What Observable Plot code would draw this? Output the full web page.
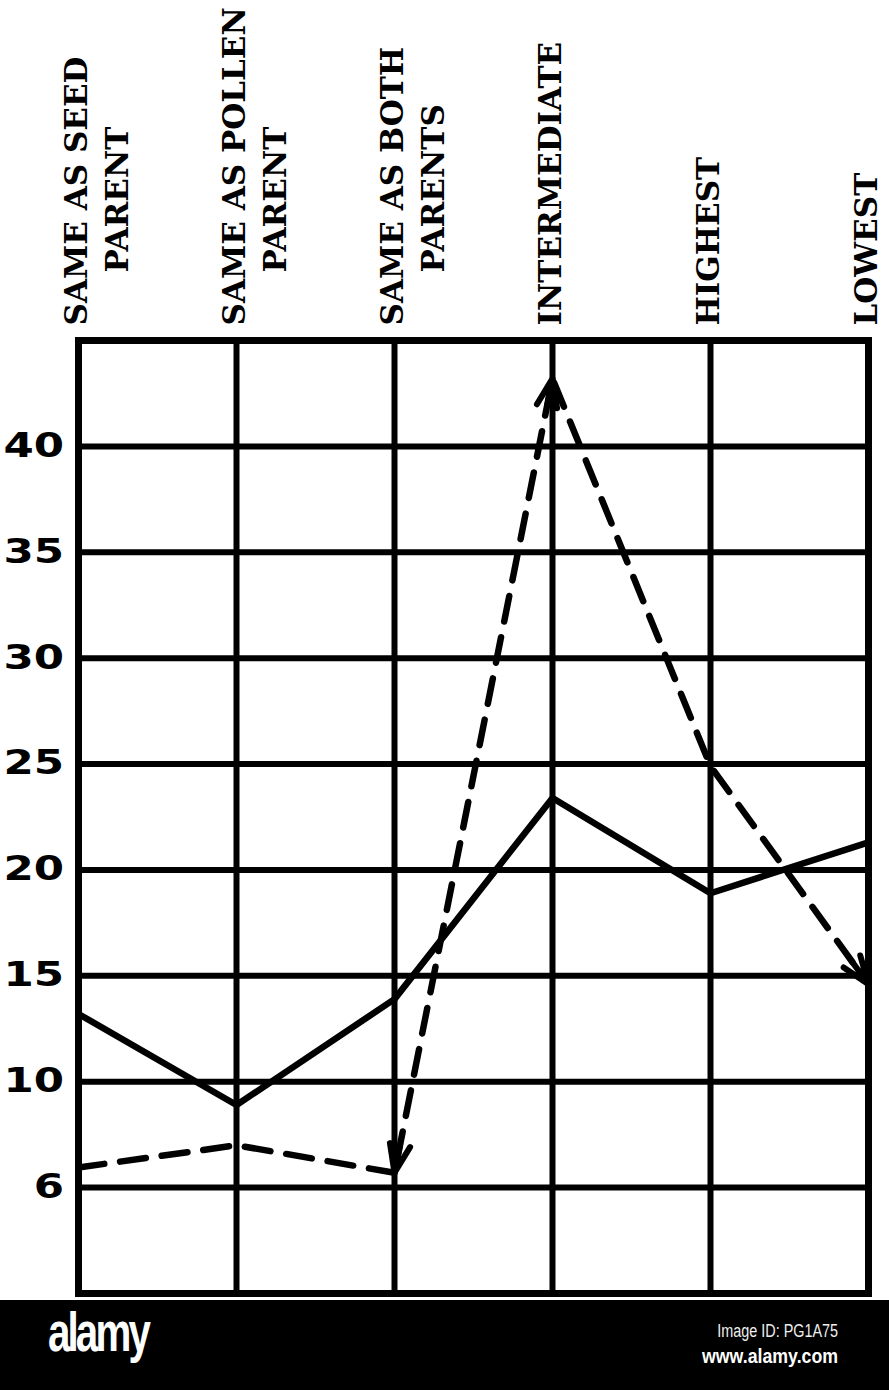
<!DOCTYPE html>
<html><head><meta charset="utf-8">
<script src="https://cdn.jsdelivr.net/npm/d3@7"></script>
<script src="https://cdn.jsdelivr.net/npm/@observablehq/plot@0.6"></script>
<style>
body{margin:0;background:#fff;width:889px;overflow:hidden;}
#chart svg{display:block;background:#fff;}
#chart g[font-family="DejaVu Sans"]{transform-origin:78px 0px;transform:translateX(-14px) scaleX(1.28);}
#footer{position:relative;width:889px;height:90px;background:#000;color:#fff;}
#logo{position:absolute;left:48px;top:4px;font-family:"Liberation Sans Narrow","Liberation Sans",sans-serif;font-weight:bold;font-size:56px;letter-spacing:-4px;line-height:1;transform:scaleX(0.72);transform-origin:left center;}
#imgid{position:absolute;right:51px;top:22px;font-family:"Liberation Sans Narrow","Liberation Sans",sans-serif;font-size:18px;line-height:1;color:#eee;transform:scaleX(0.8);transform-origin:right center;}
#site{position:absolute;right:51px;top:45px;font-family:"Liberation Sans Narrow","Liberation Sans",sans-serif;font-weight:bold;font-size:21px;line-height:1;transform:scaleX(0.845);transform-origin:right center;}
</style></head><body>
<div id="chart"></div>
<div id="footer"><div id="logo">alamy</div><div id="imgid">Image ID: PG1A75</div><div id="site">www.alamy.com</div></div>
<script>
const labelLine1 = ["SAME AS SEED", "SAME AS POLLEN", "SAME AS BOTH", "INTERMEDIATE", "HIGHEST", "LOWEST"];
const labelLine2 = ["PARENT", "PARENT", "PARENTS", "", "", ""];
const categories = labelLine1.map((l, i) => (l + " " + labelLine2[i]).trim());
const solidValues = [13.2, 8.9, 13.9, 23.4, 18.9, 21.3];
const dashedValues = [5.95, 7.0, 5.7, 43.2, 24.9, 14.6];
const yTicks = [5, 10, 15, 20, 25, 30, 35, 40];
const yTickLabels = ["6", "10", "15", "20", "25", "30", "35", "40"];
const arrowFrom = [2, 3, 4];
const arrowTo = [3, 2, 5];
const arrowSpan = [0.12, 0.12, 0.36];

const idx = categories.map((_, i) => i);
const solid = idx.map(i => ({i, v: solidValues[i], c: categories[i]}));
const dashed = idx.map(i => ({i, v: dashedValues[i], c: categories[i]}));
const arrows = arrowFrom.map((a, k) => {
  const b = arrowTo[k], t = 1 - arrowSpan[k];
  return {x1: a + (b - a) * t, y1: dashedValues[a] + (dashedValues[b] - dashedValues[a]) * t, x2: b, y2: dashedValues[b]};
});

const chart = Plot.plot({
  width: 889, height: 1300,
  marginLeft: 78, marginRight: 21, marginTop: 340, marginBottom: 7,
  x: {domain: [0, 5], axis: null},
  y: {domain: [0, 45], axis: null},
  style: {background: "#fff", color: "#000"},
  marks: [
    Plot.ruleY(yTicks, {stroke: "#000", strokeWidth: 6}),
    Plot.ruleX(idx, {stroke: "#000", strokeWidth: 6}),
    Plot.frame({stroke: "#000", strokeWidth: 7}),
    Plot.line(solid, {x: "i", y: "v", stroke: "#000", strokeWidth: 6.5, strokeLinejoin: "miter"}),
    Plot.line(dashed, {x: "i", y: "v", stroke: "#000", strokeWidth: 6.5, strokeDasharray: "26,16"}),
    Plot.arrow(arrows, {x1: "x1", y1: "y1", x2: "x2", y2: "y2", stroke: "#000", strokeWidth: 6, headLength: 7.5, headAngle: 40, insetStart: 70}),
    Plot.text(yTicks, {y: d => d, text: (d, i) => yTickLabels[i], frameAnchor: "left", textAnchor: "end", fontSize: 34, fontWeight: "bold", fontFamily: "DejaVu Sans"}),
    Plot.text(idx, {x: d => d, text: i => labelLine1[i], frameAnchor: "top", rotate: -90, textAnchor: "start", dx: -14, dy: -15, fontSize: 31, fontWeight: "bold", fontFamily: "DejaVu Serif"}),
    Plot.text(idx, {x: d => d, text: i => labelLine2[i], frameAnchor: "top", rotate: -90, textAnchor: "start", dx: 27, dy: -68, fontSize: 31, fontWeight: "bold", fontFamily: "DejaVu Serif"})
  ]
});
document.getElementById("chart").append(chart);
</script>
</body></html>
